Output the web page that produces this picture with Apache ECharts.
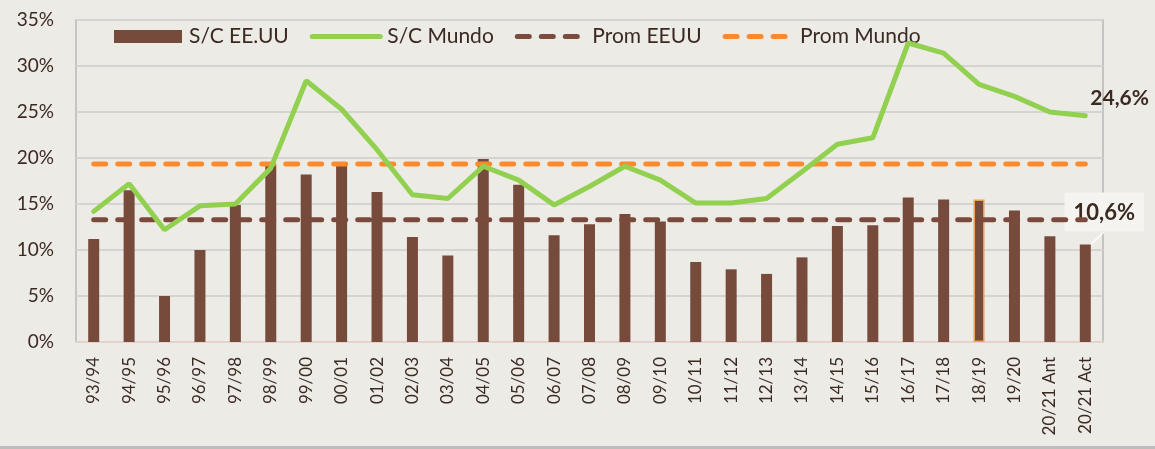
<!DOCTYPE html>
<html>
<head>
<meta charset="utf-8">
<script src="https://cdn.jsdelivr.net/npm/echarts@6/dist/echarts.min.js"></script>
<style>
html,body{margin:0;padding:0;background:#EDEBE6;}
#c{width:1155px;height:449px;}
</style>
</head>
<body>
<div id="c"></div>
<script>
const categories = ['93/94','94/95','95/96','96/97','97/98','98/99','99/00','00/01','01/02','02/03','03/04','04/05','05/06','06/07','07/08','08/09','09/10','10/11','11/12','12/13','13/14','14/15','15/16','16/17','17/18','18/19','19/20','20/21 Ant','20/21 Act'];
const scUS = [11.2,16.5,5.0,10.0,14.9,19.3,18.2,19.3,16.3,11.4,9.4,19.9,17.1,11.6,12.8,13.9,13.1,8.7,7.9,7.4,9.2,12.6,12.7,15.7,15.5,15.5,14.3,11.5,10.6];
const scWorld = [14.2,17.2,12.2,14.8,15.0,18.9,28.4,25.3,20.9,16.0,15.6,19.1,17.6,14.9,16.9,19.1,17.6,15.1,15.1,15.6,18.5,21.5,22.2,32.5,31.4,28.0,26.7,25.0,24.6];
const promUS = 13.3;
const promWorld = 19.35;
const yTicks = {min:0, max:35, interval:5};
const legendNames = ['S/C EE.UU','S/C Mundo','Prom EEUU','Prom Mundo'];

const txt = '#3B2A22';
const font = 'Lato';
const last = categories.length - 1;
const pct = (v)=>v.toFixed(1).replace('.',',')+'%';

const barData = scUS.map((v,i)=>{
  const d = {value:v};
  if (categories[i] === '18/19') d.itemStyle = {borderColor:'#E9A158', borderWidth:1.5};
  if (i === last) {
    d.label = {show:true, position:'top', formatter:(p)=>pct(p.value),
      fontFamily:font, fontWeight:'bold', fontSize:22, color:txt,
      backgroundColor:'#F5F4F1', padding:[9,9,8,9]};
    d.labelLine = {show:true, lineStyle:{color:'#FFFFFF', width:1.5}};
  }
  return d;
});

const chart = echarts.init(document.getElementById('c'), null, {renderer:'canvas'});
chart.setOption({
  backgroundColor:'#EDEBE6',
  animation:false,
  textStyle:{fontFamily:font, color:txt},
  grid:{left:76, right:52, top:20, bottom:107, show:true, borderColor:'#C4C4C2', borderWidth:2, backgroundColor:'transparent'},
  legend:{
    data:legendNames.map((n,i)=>i===0 ? {name:n, icon:'rect'} : {name:n, itemStyle:{opacity:0}}),
    left:114, top:26, padding:0, itemWidth:68, itemHeight:13, itemGap:21,
    lineStyle:{width:5},
    textStyle:{fontFamily:font, fontSize:21, color:txt, padding:[0,0,0,2]}
  },
  xAxis:{
    type:'category', data:categories, boundaryGap:true,
    axisLine:{show:true, lineStyle:{color:'#E3D3CC', width:2}},
    axisTick:{show:false},
    axisLabel:{rotate:90, interval:0, fontFamily:font, fontSize:17, color:txt, margin:15}
  },
  yAxis:{
    type:'value', min:yTicks.min, max:yTicks.max, interval:yTicks.interval,
    axisLabel:{formatter:'{value}%', fontFamily:font, fontSize:19, color:txt, margin:22},
    axisLine:{show:false}, axisTick:{show:false},
    splitLine:{lineStyle:{color:'#D6D4D0', width:2}}
  },
  series:[
    {name:legendNames[0], type:'bar', data:barData, barWidth:11,
      itemStyle:{color:'#774B3C'}, z:2,
      labelLayout:{dx:19, dy:-8}},
    {name:legendNames[1], type:'line', data:scWorld, symbol:'none',
      lineStyle:{color:'#92D050', width:5, cap:'round'}, itemStyle:{color:'#92D050'}, z:4,
      endLabel:{show:true, formatter:(p)=>pct(p.value), distance:5, offset:[0,-17],
        fontFamily:font, fontWeight:'bold', fontSize:21, color:txt}},
    {name:legendNames[2], type:'line', data:categories.map(()=>promUS), symbol:'none',
      lineStyle:{color:'#7A4B3C', width:5, type:[12,12], cap:'round'}, itemStyle:{color:'#7A4B3C'}, z:3},
    {name:legendNames[3], type:'line', data:categories.map(()=>promWorld), symbol:'none',
      lineStyle:{color:'#FF8A2B', width:5, type:[12,12], cap:'round'}, itemStyle:{color:'#FF8A2B'}, z:3}
  ],
  graphic:[{type:'rect', shape:{x:0, y:446, width:1155, height:3}, style:{fill:'#BDBDBB'}, silent:true}]
});
</script>
</body>
</html>
